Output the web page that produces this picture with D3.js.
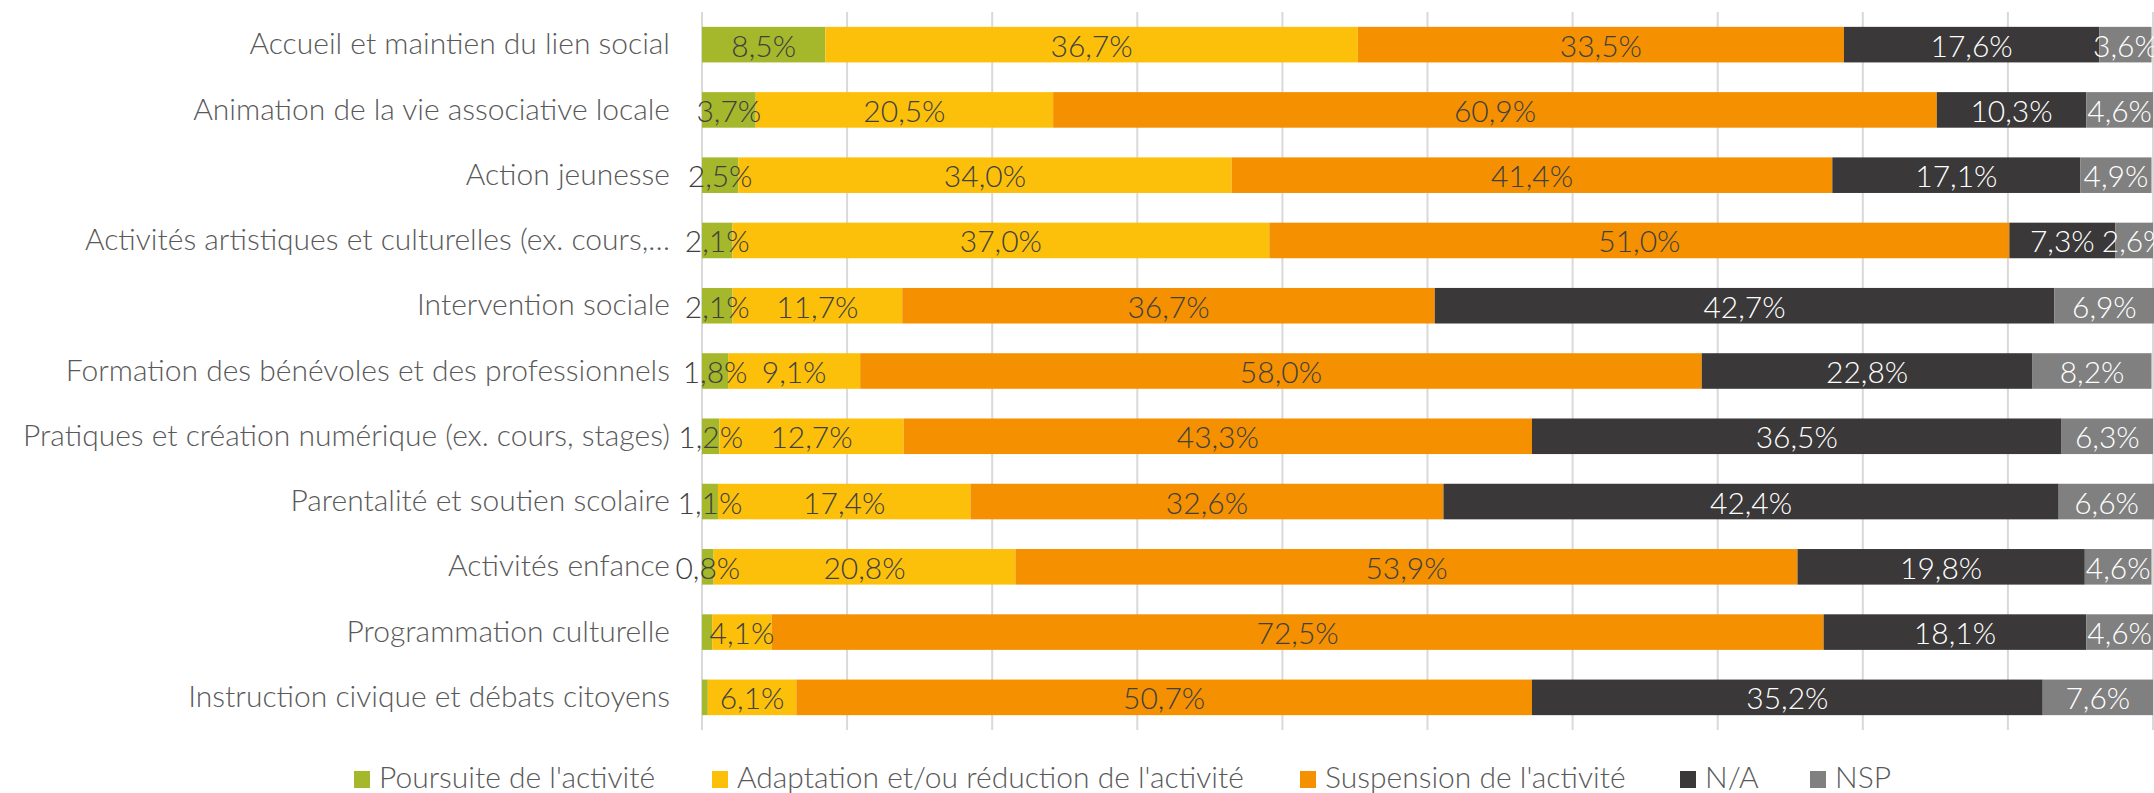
<!DOCTYPE html>
<html><head><meta charset="utf-8">
<script src="https://cdn.jsdelivr.net/npm/d3@7"></script>
<style>
html,body{margin:0;padding:0;background:#fff;overflow:hidden}
text{font-family:Lato,"Open Sans",sans-serif;font-weight:300}
</style></head>
<body><svg id="c" width="2154" height="793"></svg>
<script>
const categories = [
  "Accueil et maintien du lien social",
  "Animation de la vie associative locale",
  "Action jeunesse",
  "Activités artistiques et culturelles (ex. cours,…",
  "Intervention sociale",
  "Formation des bénévoles et des professionnels",
  "Pratiques et création numérique (ex. cours, stages)",
  "Parentalité et soutien scolaire",
  "Activités enfance",
  "Programmation culturelle",
  "Instruction civique et débats citoyens"
];
const seriesNames = ["Poursuite de l'activité","Adaptation et/ou réduction de l'activité","Suspension de l'activité","N/A","NSP"];
const poursuite  = [8.5, 3.7, 2.5, 2.1, 2.1, 1.8, 1.2, 1.1, 0.8, 0.7, 0.4];
const adaptation = [36.7, 20.5, 34.0, 37.0, 11.7, 9.1, 12.7, 17.4, 20.8, 4.1, 6.1];
const suspension = [33.5, 60.9, 41.4, 51.0, 36.7, 58.0, 43.3, 32.6, 53.9, 72.5, 50.7];
const na         = [17.6, 10.3, 17.1, 7.3, 42.7, 22.8, 36.5, 42.4, 19.8, 18.1, 35.2];
const nsp        = [3.6, 4.6, 4.9, 2.6, 6.9, 8.2, 6.3, 6.6, 4.6, 4.6, 7.6];
const xTicks = [0,10,20,30,40,50,60,70,80,90,100];
const colors = ["#a5b72b","#fcc00b","#f59100","#3a3838","#808080"];
const labelColors = ["#404040","#404040","#404040","#ffffff","#ffffff"];
const minLabel = 0.75;

const rows = categories.map((c,i)=>({cat:c, v:[poursuite[i],adaptation[i],suspension[i],na[i],nsp[i]]}));
const keys = [0,1,2,3,4];
const stack = d3.stack().keys(keys).value((d,k)=>d.v[k]);
const layers = stack(rows);

const svg = d3.select("#c");
const x = d3.scaleLinear().domain([0,100]).range([702,2153]);
const y = d3.scaleBand().domain(categories).range([12,730]).paddingInner(0.455).paddingOuter(0.2275);

// gridlines
svg.append("g").selectAll("line").data(xTicks).join("line")
  .attr("x1",d=>x(d)).attr("x2",d=>x(d)).attr("y1",12).attr("y2",730)
  .attr("stroke","#d9d9d9").attr("stroke-width",2);

// bars
const g = svg.append("g");
layers.forEach((layer,si)=>{
  g.append("g").selectAll("rect").data(layer).join("rect")
    .attr("x",d=>x(d[0])).attr("width",d=>x(d[1])-x(d[0]))
    .attr("y",d=>y(d.data.cat)).attr("height",y.bandwidth())
    .attr("fill",colors[si]);
});
// labels
const fs = 30;
layers.forEach((layer,si)=>{
  g.append("g").selectAll("text").data(layer.filter(d=>d.data.v[si]>=minLabel)).join("text")
    .attr("x",d=>(x(d[0])+x(d[1]))/2).attr("y",d=>y(d.data.cat)+y.bandwidth()/2)
    .attr("text-anchor","middle").attr("dominant-baseline","central")
    .attr("font-size",fs).attr("fill",labelColors[si])
    .text(d=>d.data.v[si].toFixed(1).replace(".",",")+"%");
});

// category axis
const yAxis = d3.axisLeft(y).tickSize(0).tickPadding(32);
const ga = svg.append("g").attr("transform","translate(702,0)").call(yAxis);
ga.select(".domain").remove();
ga.selectAll("text").attr("font-size",fs).attr("fill","#595959").style("font-family","Lato,'Open Sans',sans-serif").style("font-weight",300);

// legend
const legX = [354,712,1300,1680,1810];
const lg = svg.append("g");
seriesNames.forEach((n,i)=>{
  lg.append("rect").attr("x",legX[i]).attr("y",771).attr("width",16).attr("height",17).attr("fill",colors[i]);
  lg.append("text").attr("x",legX[i]+25).attr("y",788)
    .attr("font-size",fs).attr("fill","#595959").text(n);
});
</script></body></html>
